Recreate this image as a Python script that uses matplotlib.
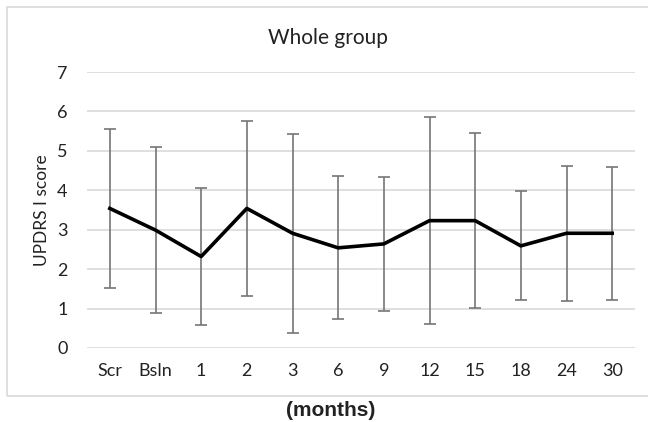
import matplotlib.pyplot as plt
from matplotlib.patches import Rectangle

visits = ['Scr', 'Bsln', '1', '2', '3', '6', '9', '12', '15', '18', '24', '30']
mean_score = [3.54, 2.99, 2.32, 3.54, 2.91, 2.54, 2.64, 3.23, 3.23, 2.59, 2.91, 2.91]
sd_score = [2.02, 2.10, 1.74, 2.21, 2.52, 1.81, 1.69, 2.63, 2.22, 1.38, 1.71, 1.69]
y_ticks = [0, 1, 2, 3, 4, 5, 6, 7]

plt.rcParams['font.family'] = ['Lato', 'DejaVu Sans']

fig = plt.figure(figsize=(6.48, 4.22), dpi=100)
ax = fig.add_axes([87 / 648, 1 - 348 / 422, (635 - 87) / 648, (348 - 72) / 422])

x = list(range(len(visits)))
ax.errorbar(x, mean_score, yerr=sd_score, fmt='none', ecolor='#767676',
            elinewidth=1.2, capsize=4.5, capthick=1.2, zorder=2)
ax.plot(x, mean_score, color='black', linewidth=2.6, zorder=3)

ax.set_xlim(-0.5, len(visits) - 0.5)
ax.set_ylim(0, 7)
ax.set_xticks(x)
ax.set_xticklabels(visits)
ax.set_yticks(y_ticks)
ax.grid(axis='y', color='#d9d9d9', linewidth=1.2, zorder=0)
ax.set_axisbelow(True)
for s in ax.spines.values():
    s.set_visible(False)
ax.tick_params(axis='both', length=0, labelsize=13, colors='#222222')
ax.tick_params(axis='x', pad=11)
ax.tick_params(axis='y', pad=14)

fig.text(42 / 648, 1 - 210 / 422, 'UPDRS I score', rotation=90, ha='center',
         va='center', fontsize=12.5, color='#222222')
fig.text(328 / 648, 1 - 38 / 422, 'Whole group', ha='center', va='center',
         fontsize=15, color='#222222')
fig.text(331 / 648, 1 - 411 / 422, '(months)', ha='center', va='center',
         fontsize=15, fontweight='bold', family='Liberation Sans', color='#222222')

# chart border (runs off the right edge)
fig.patches.append(Rectangle((7 / 648, 1 - 396 / 422), 660 / 648, 389 / 422,
                             transform=fig.transFigure, fill=False,
                             edgecolor='#d9d9d9', linewidth=1.2))

fig.savefig('out.png', dpi=100)
